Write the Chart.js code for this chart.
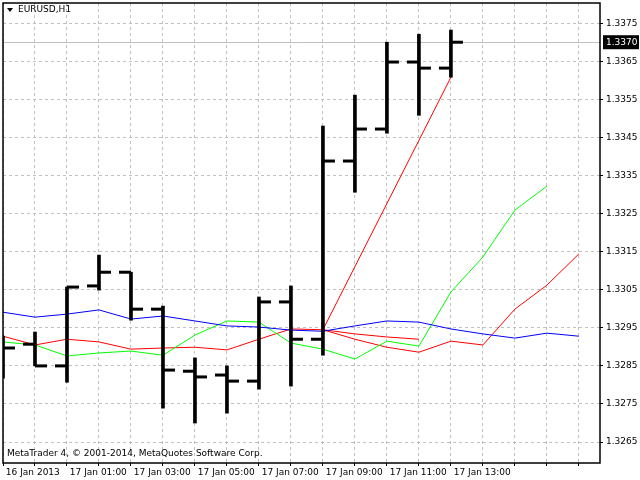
<!DOCTYPE html>
<html><head><meta charset="utf-8">
<script src="https://cdn.jsdelivr.net/npm/chart.js@4"></script>
<style>html,body{margin:0;padding:0;background:#fff}canvas{display:block}</style>
</head><body>
<div style="width:640px;height:480px"><canvas id="c"></canvas></div>
<script>
const timeLabels = ["16 Jan 2013","","17 Jan 01:00","","17 Jan 03:00","","17 Jan 05:00","","17 Jan 07:00","","17 Jan 09:00","","17 Jan 11:00","","17 Jan 13:00","","","",""];
const opens  = [null,1.32907,1.32850,1.33060,1.33096,1.32999,1.32836,1.32826,1.32810,1.33018,1.32920,1.33388,1.33472,1.33648,1.33632];
const highs  = [1.32928,1.32939,1.33057,1.33141,1.33096,1.33007,1.32871,1.32850,1.33031,1.33060,1.33480,1.33561,1.33700,1.33721,1.33732];
const lows   = [1.32818,1.32850,1.32807,1.33049,1.32970,1.32739,1.32700,1.32726,1.32789,1.32797,1.32878,1.33306,1.33461,1.33508,1.33608];
const closes = [1.32897,1.32850,1.33057,1.33096,1.32999,1.32839,1.32821,1.32810,1.33018,1.32920,1.33388,1.33472,1.33648,1.33632,1.33700];
const blueLine  = [1.32991,1.32978,1.32986,1.32997,1.32973,1.32981,1.32968,1.32955,1.32952,1.32944,1.32941,1.32955,1.32968,1.32965,1.32947,1.32934,1.32923,1.32936,1.32928];
const greenLine = [1.32913,1.32905,1.32876,1.32884,1.32889,1.32878,1.32931,1.32968,1.32965,1.32910,1.32894,1.32868,1.32915,1.32902,1.33044,1.33136,1.33259,1.33322,null];
const redLine   = [1.32928,1.32905,1.32920,1.32913,1.32894,1.32897,1.32899,1.32892,1.32920,1.32947,1.32945,1.32920,1.32899,1.32886,1.32915,1.32905,1.32999,1.33062,1.33144];
const redFlat   = [null,null,null,null,null,null,null,null,null,null,1.32945,1.32934,1.32926,1.32920,null,null,null,null,null];
const redSteep  = [null,null,null,null,null,null,null,null,null,null,1.32945,null,null,null,1.33608,null,null,null,null];
const yTicks = [1.3265,1.3275,1.3285,1.3295,1.3305,1.3315,1.3325,1.3335,1.3345,1.3355,1.3365,1.3375];
const lastPrice = 1.3370;

const pts = a => a.map((v,i)=>({x:i,y:v}));
const font = {family:'"DejaVu Sans", sans-serif', size:9};

const deco = {
  id:'deco',
  beforeDatasetsDraw(ch){
    const {ctx, scales:{x,y}} = ch;
    const py = Math.round(y.getPixelForValue(lastPrice))+0.5;
    ctx.save();ctx.strokeStyle='#c0c0c0';ctx.lineWidth=1;
    ctx.beginPath();ctx.moveTo(ch.chartArea.left,py);ctx.lineTo(ch.chartArea.right,py);ctx.stroke();ctx.restore();
  },
  afterDatasetsDraw(ch){
    const {ctx, scales:{x,y}, chartArea:a} = ch;
    ctx.save();
    ctx.strokeStyle='#000';ctx.lineWidth=3;
    closes.forEach((c,i)=>{
      const px = x.getPixelForValue(i);
      if(opens[i]!=null){const oy=y.getPixelForValue(opens[i]);ctx.beginPath();ctx.moveTo(px-12,oy);ctx.lineTo(px,oy);ctx.stroke();}
      const cy=y.getPixelForValue(c);ctx.beginPath();ctx.moveTo(px,cy);ctx.lineTo(px+12,cy);ctx.stroke();
    });
    ctx.lineWidth=1.5;ctx.strokeRect(a.left,a.top,a.right-a.left,a.bottom-a.top);
    ctx.fillStyle='#000';ctx.font='9px "DejaVu Sans", sans-serif';ctx.textBaseline='middle';
    ctx.beginPath();ctx.moveTo(7,8);ctx.lineTo(13,8);ctx.lineTo(10,12);ctx.closePath();ctx.fill();
    ctx.fillText('EURUSD,H1',18,10);
    ctx.fillText('MetaTrader 4, © 2001-2014, MetaQuotes Software Corp.',7,454);
    const py=y.getPixelForValue(lastPrice);
    ctx.fillRect(603,py-7,36,14);
    ctx.fillStyle='#fff';ctx.fillText('1.3370',606,py);
    ctx.restore();
  }
};

new Chart(document.getElementById('c'),{
  data:{datasets:[
    {type:'bar',data:highs.map((h,i)=>({x:i,y:[lows[i],h]})),backgroundColor:'#000',barThickness:3,order:1},
    {type:'line',data:pts(blueLine),borderColor:'#0000ff',borderWidth:1,pointRadius:0,order:2},
    {type:'line',data:pts(greenLine),borderColor:'#00ff00',borderWidth:1,pointRadius:0,order:2},
    {type:'line',data:pts(redLine),borderColor:'#ff0000',borderWidth:1,pointRadius:0,order:2},
    {type:'line',data:pts(redFlat),borderColor:'#ff0000',borderWidth:1,pointRadius:0,order:2},
    {type:'line',data:pts(redSteep),borderColor:'#ff0000',borderWidth:1,pointRadius:0,spanGaps:true,order:2}
  ]},
  options:{
    responsive:true,maintainAspectRatio:false,animation:false,
    layout:{padding:{left:3,top:3,right:0,bottom:0}},
    plugins:{legend:{display:false},tooltip:{enabled:false}},
    scales:{
      x:{type:'linear',min:0,max:18.66,offset:false,
        afterBuildTicks(s){s.ticks=timeLabels.map((_,i)=>({value:i}));},
        afterFit(s){s.height=17;s.paddingLeft=0;s.paddingRight=0;},
        grid:{color:'#c0c0c0',drawTicks:true,tickLength:3,tickColor:'#000',offset:false},
        border:{display:false,dash:[3,3]},
        ticks:{font,color:'#000',padding:1,maxRotation:0,autoSkip:false,align:'start',callback:(v)=>timeLabels[v]?' '+timeLabels[v]:''}
      },
      y:{position:'right',min:1.32595,max:1.33803,
        afterBuildTicks(s){s.ticks=yTicks.map(v=>({value:v}));},
        afterFit(s){s.width=40;s.paddingTop=0;s.paddingBottom=0;},
        grid:{color:'#c0c0c0',tickLength:3,tickColor:'#000'},
        border:{display:false,dash:[3,3]},
        ticks:{font,color:'#000',padding:3,callback:v=>v.toFixed(4)}
      }
    }
  },
  plugins:[deco]
});
</script></body></html>
